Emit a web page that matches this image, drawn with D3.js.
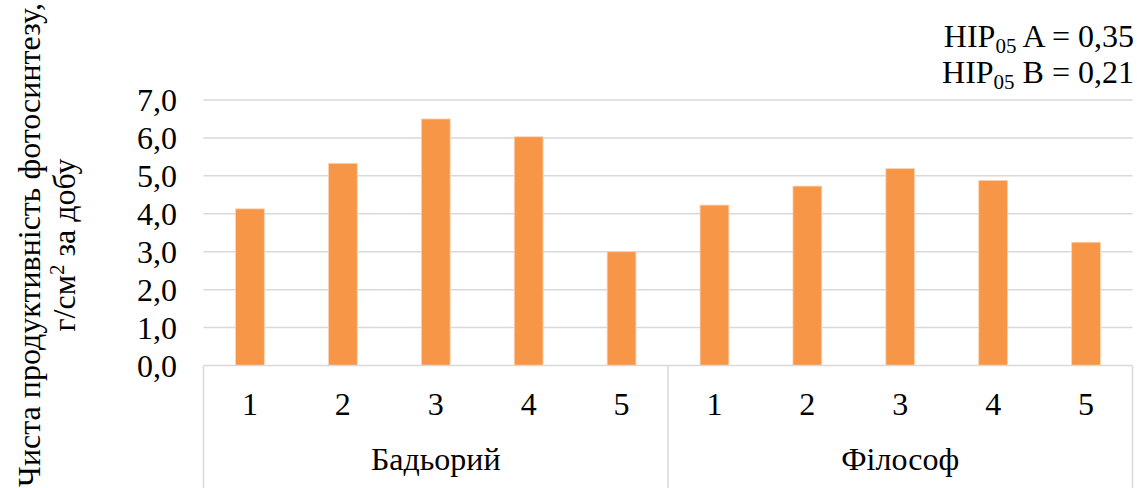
<!DOCTYPE html>
<html>
<head>
<meta charset="utf-8">
<script src="https://cdn.jsdelivr.net/npm/d3@7"></script>
<style>
  html, body { margin: 0; padding: 0; background: #fff; }
  svg { display: block; }
  svg text { font-family: "Liberation Serif", "Times New Roman", serif; }
</style>
</head>
<body>
<svg id="chart" width="1137" height="488"></svg>
<script>
// Net photosynthetic productivity by variety and treatment
const groups = ["Бадьорий", "Філософ"];
const treatments = ["1", "2", "3", "4", "5"];
const valuesBadorii = [4.13, 5.33, 6.50, 6.03, 3.00];
const valuesFilosof = [4.23, 4.73, 5.19, 4.88, 3.25];
const yTicks = [0, 1, 2, 3, 4, 5, 6, 7];
const notes = [
  { pre: "HIP", sub: "05", post: " A = 0,35" },
  { pre: "HIP", sub: "05", post: " B = 0,21" }
];

const rows = [];
groups.forEach((g, gi) => {
  const vals = gi === 0 ? valuesBadorii : valuesFilosof;
  treatments.forEach((t, ti) => rows.push({ group: g, label: t, key: g + "-" + t, value: vals[ti] }));
});

const svg = d3.select("#chart");
const margin = { left: 203.5, right: 4.5, top: 100, plotBottom: 365.5 };
const W = 1137, H = 488;

const x = d3.scaleBand()
  .domain(rows.map(d => d.key))
  .range([margin.left, W - margin.right])
  .paddingInner(0.69)
  .paddingOuter(0.345);

const y = d3.scaleLinear().domain([0, 7]).range([margin.plotBottom, margin.top]);

const gridColor = "#d9d9d9";
const fontSize = 32;
const subSize = 21;

// horizontal gridlines
svg.append("g").selectAll("line")
  .data(yTicks.filter(v => v > 0))
  .join("line")
  .attr("x1", margin.left).attr("x2", W - margin.right)
  .attr("y1", d => y(d)).attr("y2", d => y(d))
  .attr("stroke", gridColor).attr("stroke-width", 1.5);

// y tick labels
svg.append("g").selectAll("text")
  .data(yTicks)
  .join("text")
  .attr("x", 177)
  .attr("y", d => y(d))
  .attr("dy", "0.35em")
  .attr("text-anchor", "end")
  .attr("font-size", fontSize)
  .attr("fill", "#000")
  .text(d => d3.format(".1f")(d).replace(".", ","));

// bars
svg.append("g").selectAll("rect")
  .data(rows)
  .join("rect")
  .attr("x", d => x(d.key))
  .attr("width", x.bandwidth())
  .attr("y", d => y(d.value))
  .attr("height", d => y(0) - y(d.value))
  .attr("fill", "#f79646")
  .attr("stroke", "#fbd3b4")
  .attr("stroke-width", 0.8);

// category axis: baseline and group separators
const axisG = svg.append("g");
axisG.append("line")
  .attr("x1", margin.left).attr("x2", W - margin.right)
  .attr("y1", y(0)).attr("y2", y(0))
  .attr("stroke", gridColor).attr("stroke-width", 1.5);

const step = x.step();
const groupEdges = [margin.left];
groups.forEach((g, gi) => groupEdges.push(margin.left + step * treatments.length * (gi + 1)));
axisG.selectAll("line.sep")
  .data(groupEdges)
  .join("line")
  .attr("class", "sep")
  .attr("x1", d => d).attr("x2", d => d)
  .attr("y1", y(0)).attr("y2", H)
  .attr("stroke", gridColor).attr("stroke-width", 1.5);

// treatment labels
axisG.selectAll("text.cat")
  .data(rows)
  .join("text")
  .attr("class", "cat")
  .attr("x", d => x(d.key) + x.bandwidth() / 2)
  .attr("y", 415)
  .attr("text-anchor", "middle")
  .attr("font-size", fontSize)
  .text(d => d.label);

// variety labels
axisG.selectAll("text.grp")
  .data(groups)
  .join("text")
  .attr("class", "grp")
  .attr("x", (d, i) => (groupEdges[i] + groupEdges[i + 1]) / 2)
  .attr("y", 470)
  .attr("text-anchor", "middle")
  .attr("font-size", fontSize)
  .text(d => d);

// y axis title (two lines, rotated)
const yTitle = svg.append("text")
  .attr("transform", "translate(0,245) rotate(-90)")
  .attr("text-anchor", "middle")
  .attr("font-size", fontSize);
yTitle.append("tspan").attr("x", 0).attr("y", 40).text("Чиста продуктивність фотосинтезу,");
const l2 = yTitle.append("tspan").attr("x", 0).attr("y", 75);
l2.text("г/см");
yTitle.append("tspan").attr("font-size", subSize).attr("dy", -11).text("2");
yTitle.append("tspan").attr("dy", 11).text(" за добу");

// LSD notes
const noteG = svg.append("g");
notes.forEach((n, i) => {
  const t = noteG.append("text")
    .attr("x", 1134)
    .attr("y", 47 + i * 36)
    .attr("text-anchor", "end")
    .attr("font-size", fontSize);
  t.append("tspan").text(n.pre);
  t.append("tspan").attr("font-size", subSize).attr("dy", 6).text(n.sub);
  t.append("tspan").attr("dy", -6).text(n.post);
});
</script>
</body>
</html>
